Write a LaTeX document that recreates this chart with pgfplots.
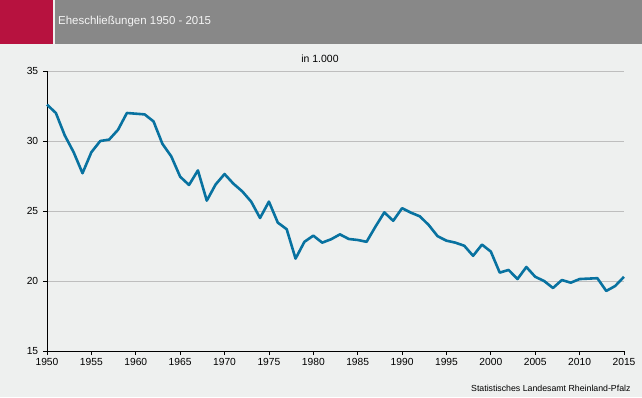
\documentclass[border=0pt]{standalone}
\usepackage{pgfplots}
\pgfplotsset{compat=1.18}
\usepackage{fontspec}
\setmainfont{Liberation Sans}
\definecolor{bgc}{RGB}{238,240,239}
\definecolor{hdr}{RGB}{136,136,136}
\definecolor{redc}{RGB}{183,18,63}
\definecolor{linec}{RGB}{8,114,160}
\definecolor{gridc}{RGB}{190,190,190}
\begin{document}
\begin{tikzpicture}[x=1bp,y=1bp]
\fill[bgc] (0,0) rectangle (642,397);
\fill[redc] (0,353) rectangle (53,397);
\fill[hdr] (55,353) rectangle (642,397);
\node[anchor=west,text=white!96!black,font=\fontsize{11.5}{13}\selectfont,inner sep=0] at (58,375) {Eheschließungen 1950 - 2015};
\node[font=\fontsize{10.5}{12}\selectfont,inner sep=0] at (320,338.7) {in 1.000};
\node[anchor=east,font=\fontsize{8.8}{10}\selectfont,inner sep=0] at (630.7,8.3) {Statistisches Landesamt Rheinland-Pfalz};
\begin{axis}[
  at={(47bp,46bp)}, anchor=south west,
  width=577bp, height=280bp, scale only axis,
  xmin=1950, xmax=2015, ymin=15, ymax=35,
  xtick={1950,1955,...,2015}, ytick={15,20,...,35},
  axis x line*=bottom, axis y line*=left,
  axis line style={black,line width=0.8pt,-},
  tick style={black,line width=0.8pt},
  tick align=outside, major tick length=4bp,
  ymajorgrids, grid style={gridc,line width=0.8pt},
  /pgf/number format/assume math mode=true,
  /pgf/number format/1000 sep={},
  ticklabel style={font=\fontsize{10.3}{12}\selectfont},
  yticklabel style={xshift=-1.3bp},
  axis background/.style={fill=bgc},
  clip=false,
]
\addplot[linec, line width=2.6bp, line join=round, mark=none] coordinates {
(1950,32.6)(1951,32.0)(1952,30.4)(1953,29.2)(1954,27.7)(1955,29.2)(1956,30.0)(1957,30.1)(1958,30.8)(1959,32.0)
(1960,31.95)(1961,31.9)(1962,31.4)(1963,29.8)(1964,28.9)(1965,27.45)(1966,26.86)(1967,27.9)(1968,25.74)(1969,26.9)
(1970,27.64)(1971,26.95)(1972,26.4)(1973,25.67)(1974,24.5)(1975,25.67)(1976,24.17)(1977,23.7)(1978,21.6)(1979,22.8)
(1980,23.24)(1981,22.74)(1982,22.98)(1983,23.33)(1984,23.0)(1985,22.93)(1986,22.8)(1987,23.88)(1988,24.9)(1989,24.3)
(1990,25.2)(1991,24.88)(1992,24.62)(1993,24.0)(1994,23.2)(1995,22.88)(1996,22.74)(1997,22.52)(1998,21.8)(1999,22.6)
(2000,22.1)(2001,20.6)(2002,20.79)(2003,20.14)(2004,21.0)(2005,20.3)(2006,20.0)(2007,19.5)(2008,20.07)(2009,19.88)
(2010,20.14)(2011,20.17)(2012,20.2)(2013,19.29)(2014,19.64)(2015,20.3)
};
\end{axis}
\end{tikzpicture}
\end{document}
